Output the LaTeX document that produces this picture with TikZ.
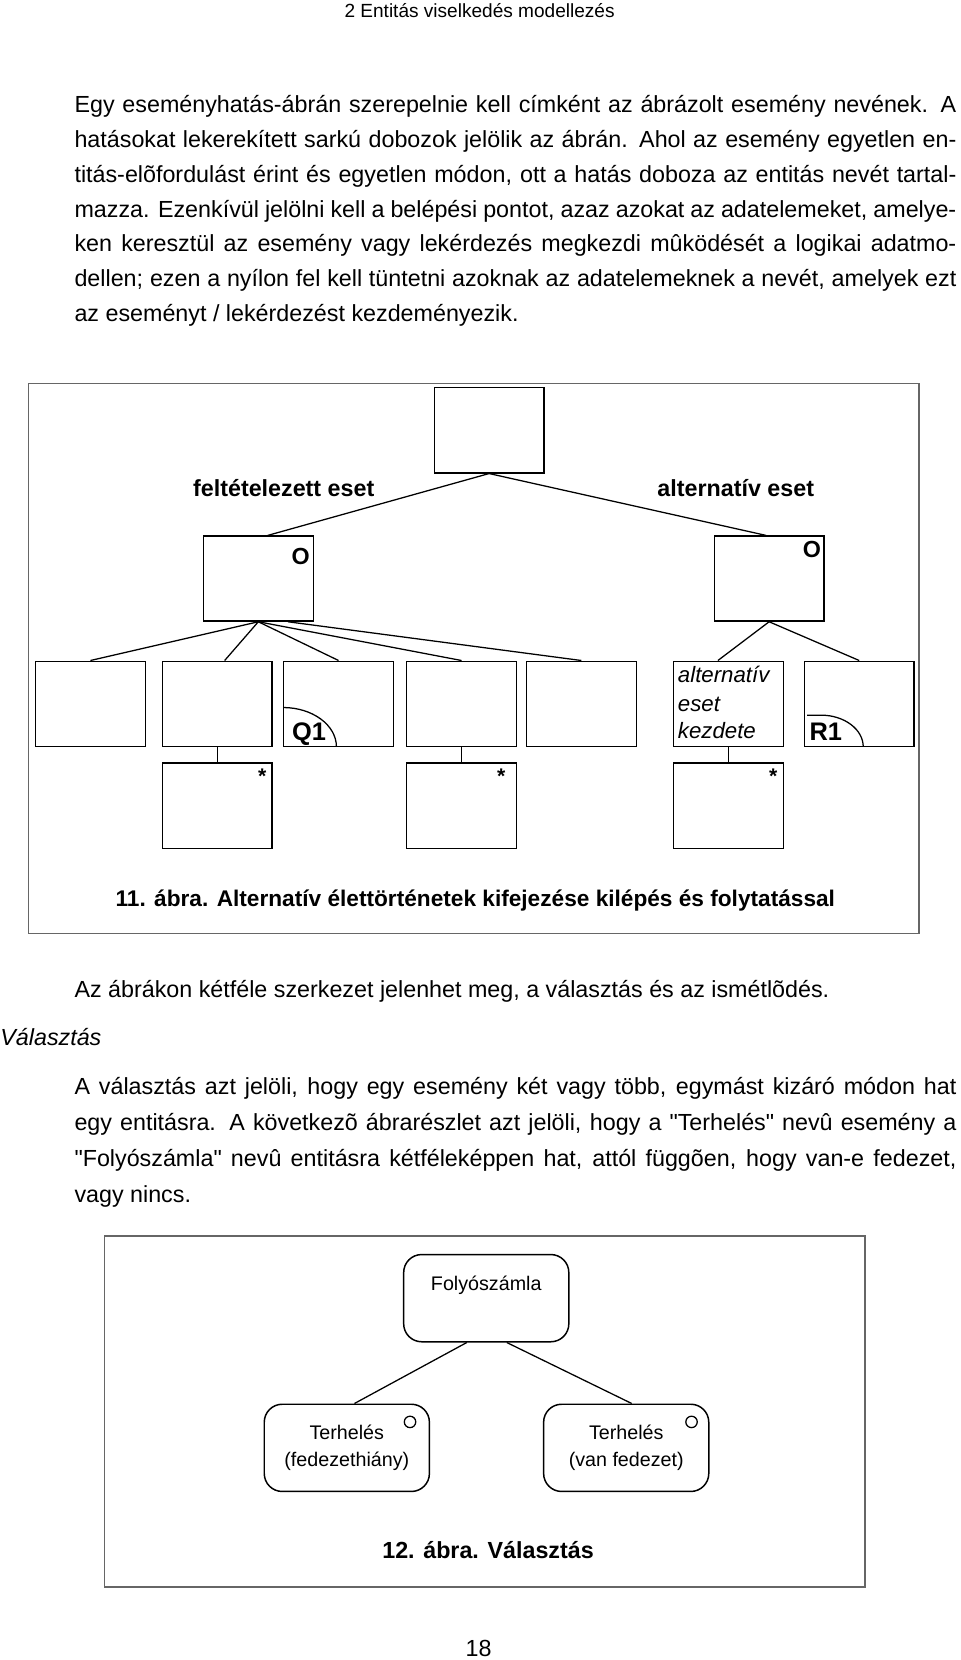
\documentclass[tikz,border=0pt]{standalone}
\usepackage{fontspec}
\setmainfont{Liberation Sans}[Ligatures=TeXOff]
\newcommand{\jline}[1]{\makebox[416.5pt][s]{#1}}

\begin{document}
\begin{tikzpicture}[x=0.5pt,y=-0.5pt,
    txt/.style={anchor=base west,inner sep=0pt,font=\fontsize{11}{13}\selectfont},
    ebox/.style={draw,line width=0.6pt,minimum width=51.8pt,minimum height=40.2pt,inner sep=0pt},
    rbox/.style={draw,line width=0.7pt,rounded corners=8.5pt,minimum width=78pt,minimum height=41.2pt,inner sep=0pt,align=center,font=\fontsize{9.3}{12.9}\selectfont},
    frm/.style={draw=black!60,line width=0.6pt},
    lbl/.style={anchor=base,inner sep=0pt,font=\fontsize{11}{13}\selectfont\bfseries}]
\useasboundingbox (0,0) rectangle (907,1568);

\node[anchor=base,inner sep=0pt,font=\fontsize{9}{11}\selectfont] (hdr) at (453,16.5) {2 Entitás viselkedés modellezés};

\node[txt] (p1a) at (70,106) {\jline{Egy eseményhatás-ábrán szerepelnie kell címként az ábrázolt esemény nevének. A}};
\node[txt] (p1b) at (70,139) {\jline{hatásokat lekerekített sarkú dobozok jelölik az ábrán. Ahol az esemény egyetlen en-}};
\node[txt] (p1c) at (70,172) {\jline{titás-elõfordulást érint és egyetlen módon, ott a hatás doboza az entitás nevét tartal-}};
\node[txt] (p1d) at (70,205) {\jline{mazza. Ezenkívül jelölni kell a belépési pontot, azaz azokat az adatelemeket, amelye-}};
\node[txt] (p1e) at (70,238) {\jline{ken keresztül az esemény vagy lekérdezés megkezdi mûködését a logikai adatmo-}};
\node[txt] (p1f) at (70,271) {\jline{dellen; ezen a nyílon fel kell tüntetni azoknak az adatelemeknek a nevét, amelyek ezt}};
\node[txt] (p1g) at (70,304) {az eseményt / lekérdezést kezdeményezik.};

\draw[frm] (27,362) rectangle (868,882);
\node[ebox] (top) at (462,406.5) {};
\node[ebox] (ml) at (244,546.5) {};
\node[ebox] (mr) at (726.5,546.5) {};
\foreach \n/\x in {b1/85.4,b2/205.2,b3/319.8,b4/436,b5/549.2,b6/688.1,b7/811.6}
    \node[ebox] (\n) at (\x,664.7) {};
\node[ebox] (sa) at (205.2,761) {};
\node[ebox] (sb) at (436,761) {};
\node[ebox] (sc) at (688.1,761) {};

\node[lbl] (felt) at (268,469) {feltételezett eset};
\node[lbl] (alt) at (695,469) {alternatív eset};
\node[lbl] (ol) at (284,533) {O};
\node[lbl] (or) at (767,527) {O};
\node[lbl,font=\fontsize{12}{14}\selectfont\bfseries] (q1) at (292,699.6) {Q1};
\node[lbl,font=\fontsize{12}{14}\selectfont\bfseries] (r1) at (780,699.6) {R1};
\foreach \w/\y [count=\i] in {alternatív/645,eset/672,kezdete/698}
    \node[anchor=base west,inner sep=0pt,font=\fontsize{10.5}{12}\selectfont\itshape] (ak\i) at (640,\y) {\w};
\foreach \x [count=\i] in {247.7,473.4,730.3}
    \node[lbl,font=\fontsize{10}{12}\selectfont\bfseries] (st\i) at (\x,740) {*};

\draw[line width=0.6pt] ([yshift=18.6pt]b3.south west) arc[start angle=90,end angle=0,x radius=25.2pt,y radius=18.6pt];
\draw[line width=0.6pt] ([xshift=1.6pt,yshift=15pt]b7.south west) -- ++(6.5pt,0) arc[start angle=90,end angle=0,x radius=20pt,y radius=15pt];

\draw[line width=0.6pt] (top.south) -- ([xshift=4.5pt]ml.north);
\draw[line width=0.6pt] (top.south) -- ([xshift=-1.5pt]mr.north);
\draw[line width=0.6pt] (ml.south) -- (b1.north);
\draw[line width=0.6pt] (ml.south) -- ([xshift=3.5pt]b2.north);
\draw[line width=0.6pt] (ml.south) -- (b3.north);
\draw[line width=0.6pt] (ml.south) -- (b4.north);
\draw[line width=0.6pt] ([xshift=14pt]ml.south) -- (b5.north);
\draw[line width=0.6pt] (mr.south) -- ([xshift=-5pt]b6.north);
\draw[line width=0.6pt] (mr.south) -- (b7.north);
\draw[line width=0.6pt] (b2.south) -- (sa.north);
\draw[line width=0.6pt] (b4.south) -- (sb.north);
\draw[line width=0.6pt] (b6.south) -- (sc.north);

\node[lbl,font=\fontsize{10.7}{13}\selectfont\bfseries] (cap1) at (449,856) {11. ábra. Alternatív élettörténetek kifejezése kilépés és folytatással};

\node[txt] (p2a) at (70,942) {Az ábrákon kétféle szerkezet jelenhet meg, a választás és az ismétlõdés.};
\node[txt,font=\fontsize{11}{13}\selectfont\itshape] (val) at (0,988) {Választás};
\node[txt] (p3a) at (70,1034) {\jline{A választás azt jelöli, hogy egy esemény két vagy több, egymást kizáró módon hat}};
\node[txt] (p3b) at (70,1068) {\jline{egy entitásra. A következõ ábrarészlet azt jelöli, hogy a "Terhelés" nevû esemény a}};
\node[txt] (p3c) at (70,1102) {\jline{"Folyószámla" nevû entitásra kétféleképpen hat, attól függõen, hogy van-e fedezet,}};
\node[txt] (p3d) at (70,1136) {vagy nincs.};

\draw[frm] (99,1167.5) rectangle (817,1499);
\node[rbox] (fsz) at (459.3,1226.2) {};
\node[font=\fontsize{9.3}{12}\selectfont] (fszt) at ([yshift=-15pt]fsz.north) {Folyószámla};
\node[rbox] (th1) at (327.6,1367.6) {Terhelés\\(fedezethiány)};
\node[rbox] (th2) at (591.5,1367.6) {Terhelés\\(van fedezet)};
\draw[line width=0.6pt] ([xshift=-9.5pt,yshift=-8.7pt]th1.north east) circle (2.7pt);
\draw[line width=0.6pt] ([xshift=-8.5pt,yshift=-8.7pt]th2.north east) circle (2.7pt);
\draw[line width=0.6pt] ([xshift=-9.2pt]fsz.south) -- ([xshift=3.6pt]th1.north);
\draw[line width=0.6pt] ([xshift=9.7pt]fsz.south) -- ([xshift=2.6pt]th2.north);
\node[lbl] (cap2) at (461,1472) {12. ábra. Választás};

\node[anchor=base,inner sep=0pt,font=\fontsize{11}{13}\selectfont] (pg) at (452,1565) {18};
\end{tikzpicture}
\end{document}
